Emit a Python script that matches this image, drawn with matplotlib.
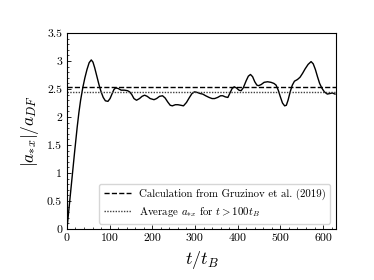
import numpy as np
import matplotlib
matplotlib.use("Agg")
import matplotlib.pyplot as plt
from matplotlib.ticker import MultipleLocator, FuncFormatter

plt.rcParams['font.family'] = 'serif'
plt.rcParams['font.serif'] = ['cmr10']
plt.rcParams['mathtext.fontset'] = 'cm'
plt.rcParams['axes.unicode_minus'] = False

# simulation curve
t = [0, 6, 12, 18, 24, 28, 32, 37, 42, 47, 52, 57, 61, 65, 70, 75, 80, 85, 90, 96,
     101, 106, 110, 114, 120, 127, 135, 142, 147, 152, 157, 163, 170, 176, 182,
     188, 195, 204, 210, 217, 224, 230, 236, 242, 247, 254, 260, 267, 273, 280,
     287, 293, 299, 305, 312, 318, 325, 333, 340, 346, 353, 360, 365, 371, 377,
     382, 387, 392, 397, 403, 408, 413, 420, 425, 430, 435, 440, 445, 449, 455,
     462, 470, 478, 485, 490, 495, 500, 505, 510, 514, 518, 523, 528, 533, 540,
     546, 552, 558, 565, 572, 577, 582, 587, 592, 597, 603, 610, 616, 622, 628]
a = [0.0, 0.46, 0.92, 1.38, 1.82, 2.08, 2.30, 2.52, 2.70, 2.85, 2.97, 3.02, 2.98, 2.88,
     2.73, 2.58, 2.45, 2.35, 2.29, 2.28, 2.33, 2.42, 2.49, 2.52, 2.51, 2.48, 2.48,
     2.47, 2.45, 2.40, 2.33, 2.30, 2.33, 2.37, 2.39, 2.37, 2.33, 2.31, 2.33, 2.37,
     2.38, 2.34, 2.27, 2.21, 2.20, 2.22, 2.22, 2.21, 2.20, 2.26, 2.35, 2.42, 2.45,
     2.44, 2.42, 2.41, 2.38, 2.35, 2.33, 2.33, 2.35, 2.38, 2.38, 2.36, 2.35, 2.43,
     2.51, 2.54, 2.52, 2.48, 2.47, 2.52, 2.65, 2.73, 2.76, 2.72, 2.63, 2.57, 2.56,
     2.58, 2.62, 2.63, 2.62, 2.60, 2.57, 2.48, 2.36, 2.25, 2.20, 2.21, 2.30, 2.45,
     2.57, 2.64, 2.67, 2.71, 2.78, 2.86, 2.94, 2.99, 2.95, 2.85, 2.72, 2.60, 2.52,
     2.45, 2.41, 2.42, 2.43, 2.41]

gruzinov = 2.53
average = 2.45

fig = plt.figure(figsize=(3.74, 2.8), dpi=100)
ax = fig.add_axes([0.179, 0.182, 0.719, 0.700])

ax.plot(t, a, color='black', lw=1.0)
ax.axhline(gruzinov, color='black', ls='--', lw=1.0,
           label='Calculation from Gruzinov et al. (2019)')
ax.axhline(average, color='0.25', ls=(0, (1, 1)), lw=1.0,
           label=r'Average $a_{*x}$ for $t > 100t_B$')

ax.set_xlim(0, 630)
ax.set_ylim(0, 3.5)
ax.xaxis.set_major_locator(MultipleLocator(100))
ax.xaxis.set_minor_locator(MultipleLocator(20))
ax.yaxis.set_major_locator(MultipleLocator(0.5))
ax.yaxis.set_minor_locator(MultipleLocator(0.1))
ax.yaxis.set_major_formatter(FuncFormatter(lambda v, p: '%g' % v))
ax.tick_params(which='both', direction='in', labelsize=8.5)
ax.tick_params(which='major', length=3, width=0.6)
ax.tick_params(which='minor', length=1.5, width=0.5)
for s in ax.spines.values():
    s.set_linewidth(0.8)

ax.set_xlabel(r'$t/t_B$', fontsize=13)
ax.set_ylabel(r'$|a_{*x}|/a_{DF}$', fontsize=12.5)

ax.legend(loc='lower right', fontsize=7.8, handlelength=2.5)

fig.savefig('out.png', dpi=100)
